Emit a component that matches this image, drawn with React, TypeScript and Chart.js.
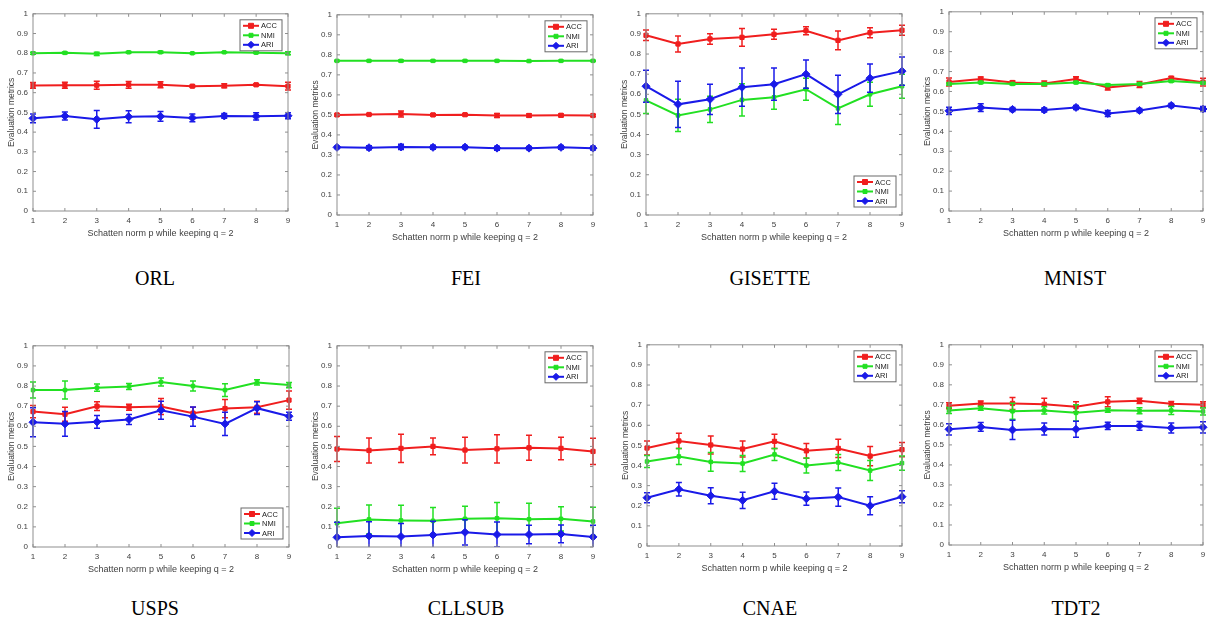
import React, { useEffect, useRef } from 'react';
import { Chart, registerables } from 'chart.js';

Chart.register(...registerables);

// ---------- shared axis data ----------
const P_VALUES = [1, 2, 3, 4, 5, 6, 7, 8, 9];
const Y_TICKS = [0, 0.1, 0.2, 0.3, 0.4, 0.5, 0.6, 0.7, 0.8, 0.9, 1];
const Y_TICK_LABELS = ['0', '0.1', '0.2', '0.3', '0.4', '0.5', '0.6', '0.7', '0.8', '0.9', '1'];
const SERIES_NAMES = ['ACC', 'NMI', 'ARI'];
const X_TITLE = 'Schatten norm p while keeping q = 2';
const Y_TITLE = 'Evaluation metrics';

// ---------- ORL ----------
const ORL_ACC = [0.637, 0.638, 0.638, 0.640, 0.640, 0.633, 0.635, 0.640, 0.633];
const ORL_ACC_ERR = [0.015, 0.015, 0.02, 0.017, 0.015, 0.005, 0.01, 0.005, 0.02];
const ORL_NMI = [0.800, 0.802, 0.797, 0.805, 0.805, 0.800, 0.805, 0.803, 0.800];
const ORL_NMI_ERR = [0.005, 0.004, 0.008, 0.004, 0.005, 0.003, 0.003, 0.004, 0.008];
const ORL_ARI = [0.470, 0.482, 0.465, 0.478, 0.480, 0.472, 0.482, 0.480, 0.483];
const ORL_ARI_ERR = [0.022, 0.02, 0.045, 0.03, 0.025, 0.02, 0.012, 0.018, 0.015];

// ---------- FEI ----------
const FEI_ACC = [0.500, 0.502, 0.505, 0.500, 0.501, 0.497, 0.497, 0.498, 0.497];
const FEI_ACC_ERR = [0.005, 0.004, 0.015, 0.006, 0.005, 0.01, 0.008, 0.007, 0.005];
const FEI_NMI = [0.770, 0.770, 0.770, 0.770, 0.770, 0.770, 0.769, 0.770, 0.770];
const FEI_NMI_ERR = [0.003, 0.003, 0.004, 0.003, 0.003, 0.003, 0.003, 0.003, 0.003];
const FEI_ARI = [0.338, 0.336, 0.340, 0.338, 0.339, 0.334, 0.334, 0.338, 0.334];
const FEI_ARI_ERR = [0.006, 0.01, 0.013, 0.01, 0.008, 0.01, 0.008, 0.009, 0.009];

// ---------- GISETTE ----------
const GIS_ACC = [0.893, 0.850, 0.875, 0.883, 0.898, 0.916, 0.868, 0.906, 0.918];
const GIS_ACC_ERR = [0.026, 0.04, 0.026, 0.044, 0.025, 0.02, 0.047, 0.025, 0.025];
const GIS_NMI = [0.570, 0.495, 0.525, 0.572, 0.585, 0.625, 0.530, 0.600, 0.640];
const GIS_NMI_ERR = [0.065, 0.08, 0.065, 0.08, 0.06, 0.055, 0.08, 0.06, 0.06];
const GIS_ARI = [0.640, 0.550, 0.575, 0.635, 0.650, 0.700, 0.600, 0.680, 0.715];
const GIS_ARI_ERR = [0.08, 0.115, 0.075, 0.095, 0.08, 0.07, 0.095, 0.07, 0.07];

// ---------- MNIST ----------
const MNI_ACC = [0.648, 0.663, 0.645, 0.640, 0.662, 0.620, 0.635, 0.667, 0.647];
const MNI_ACC_ERR = [0.02, 0.01, 0.008, 0.012, 0.012, 0.012, 0.015, 0.008, 0.02];
const MNI_NMI = [0.638, 0.645, 0.638, 0.637, 0.645, 0.632, 0.638, 0.652, 0.643];
const MNI_NMI_ERR = [0.005, 0.005, 0.005, 0.005, 0.005, 0.005, 0.005, 0.005, 0.005];
const MNI_ARI = [0.503, 0.519, 0.510, 0.507, 0.520, 0.490, 0.505, 0.530, 0.512];
const MNI_ARI_ERR = [0.018, 0.02, 0.01, 0.01, 0.01, 0.015, 0.01, 0.01, 0.012];

// ---------- USPS ----------
const USP_ACC = [0.673, 0.660, 0.700, 0.695, 0.698, 0.665, 0.688, 0.695, 0.730];
const USP_ACC_ERR = [0.03, 0.035, 0.022, 0.015, 0.04, 0.03, 0.045, 0.03, 0.045];
const USP_NMI = [0.780, 0.780, 0.792, 0.798, 0.820, 0.800, 0.780, 0.818, 0.805];
const USP_NMI_ERR = [0.04, 0.045, 0.018, 0.015, 0.02, 0.025, 0.032, 0.013, 0.013];
const USP_ARI = [0.620, 0.612, 0.622, 0.634, 0.680, 0.648, 0.612, 0.690, 0.650];
const USP_ARI_ERR = [0.072, 0.062, 0.032, 0.025, 0.045, 0.048, 0.058, 0.032, 0.02];

// ---------- CLLSUB ----------
const CLL_ACC = [0.487, 0.480, 0.490, 0.500, 0.482, 0.488, 0.493, 0.490, 0.475];
const CLL_ACC_ERR = [0.062, 0.062, 0.07, 0.042, 0.064, 0.07, 0.062, 0.056, 0.065];
const CLL_NMI = [0.118, 0.137, 0.132, 0.130, 0.140, 0.143, 0.138, 0.140, 0.127];
const CLL_NMI_ERR = [0.075, 0.072, 0.076, 0.066, 0.062, 0.078, 0.08, 0.06, 0.07];
const CLL_ARI = [0.048, 0.055, 0.052, 0.060, 0.073, 0.062, 0.062, 0.065, 0.050];
const CLL_ARI_ERR = [0.075, 0.07, 0.065, 0.068, 0.063, 0.062, 0.046, 0.044, 0.058];

// ---------- CNAE ----------
const CNA_ACC = [0.487, 0.522, 0.502, 0.482, 0.520, 0.473, 0.485, 0.447, 0.479];
const CNA_ACC_ERR = [0.035, 0.038, 0.045, 0.04, 0.035, 0.037, 0.045, 0.048, 0.035];
const CNA_NMI = [0.420, 0.445, 0.418, 0.410, 0.455, 0.400, 0.415, 0.375, 0.412];
const CNA_NMI_ERR = [0.03, 0.04, 0.047, 0.04, 0.03, 0.037, 0.04, 0.05, 0.035];
const CNA_ARI = [0.240, 0.282, 0.250, 0.227, 0.272, 0.235, 0.243, 0.200, 0.245];
const CNA_ARI_ERR = [0.025, 0.033, 0.04, 0.04, 0.04, 0.033, 0.045, 0.045, 0.03];

// ---------- TDT2 ----------
const TDT_ACC = [0.695, 0.707, 0.707, 0.703, 0.690, 0.715, 0.720, 0.705, 0.700];
const TDT_ACC_ERR = [0.015, 0.012, 0.03, 0.03, 0.025, 0.025, 0.013, 0.012, 0.015];
const TDT_NMI = [0.672, 0.683, 0.668, 0.672, 0.660, 0.673, 0.670, 0.672, 0.667];
const TDT_NMI_ERR = [0.015, 0.01, 0.04, 0.018, 0.04, 0.01, 0.015, 0.02, 0.018];
const TDT_ARI = [0.578, 0.590, 0.575, 0.580, 0.578, 0.595, 0.595, 0.585, 0.588];
const TDT_ARI_ERR = [0.028, 0.022, 0.048, 0.03, 0.04, 0.018, 0.022, 0.025, 0.028];

// ---------- styles ----------
const COLORS = ['#f01e1e', '#22e022', '#1a1ae8'];
const MARKERS = ['rect', 'rect', 'rectRot'];
const MARKER_R = [3, 2.5, 4];
const TEXT_COLOR = '#404040';
const FRAME_COLOR = '#8f8f8f';
const SANS = '"Liberation Sans", Arial, sans-serif';
const SERIF = '"Liberation Serif", "Times New Roman", serif';

type Panel = {
  name: string;
  series: number[][];
  errors: number[][];
  plot: { l: number; t: number; r: number; b: number };
  caption: { x: number; y: number };
  legendPos: 'ne' | 'se';
};

const PANELS: Panel[] = [
  { name: 'ORL', series: [ORL_ACC, ORL_NMI, ORL_ARI], errors: [ORL_ACC_ERR, ORL_NMI_ERR, ORL_ARI_ERR],
    plot: { l: 33, t: 12, r: 288, b: 211 }, caption: { x: 155, y: 278 }, legendPos: 'ne' },
  { name: 'FEI', series: [FEI_ACC, FEI_NMI, FEI_ARI], errors: [FEI_ACC_ERR, FEI_NMI_ERR, FEI_ARI_ERR],
    plot: { l: 337, t: 13, r: 593, b: 215 }, caption: { x: 466, y: 278 }, legendPos: 'ne' },
  { name: 'GISETTE', series: [GIS_ACC, GIS_NMI, GIS_ARI], errors: [GIS_ACC_ERR, GIS_NMI_ERR, GIS_ARI_ERR],
    plot: { l: 646, t: 12, r: 902, b: 215 }, caption: { x: 770, y: 278 }, legendPos: 'se' },
  { name: 'MNIST', series: [MNI_ACC, MNI_NMI, MNI_ARI], errors: [MNI_ACC_ERR, MNI_NMI_ERR, MNI_ARI_ERR],
    plot: { l: 949, t: 10, r: 1203, b: 211 }, caption: { x: 1075, y: 278 }, legendPos: 'ne' },
  { name: 'USPS', series: [USP_ACC, USP_NMI, USP_ARI], errors: [USP_ACC_ERR, USP_NMI_ERR, USP_ARI_ERR],
    plot: { l: 33, t: 344, r: 289, b: 547 }, caption: { x: 155, y: 608 }, legendPos: 'se' },
  { name: 'CLLSUB', series: [CLL_ACC, CLL_NMI, CLL_ARI], errors: [CLL_ACC_ERR, CLL_NMI_ERR, CLL_ARI_ERR],
    plot: { l: 337, t: 344, r: 593, b: 547 }, caption: { x: 466, y: 608 }, legendPos: 'ne' },
  { name: 'CNAE', series: [CNA_ACC, CNA_NMI, CNA_ARI], errors: [CNA_ACC_ERR, CNA_NMI_ERR, CNA_ARI_ERR],
    plot: { l: 647, t: 343, r: 902, b: 546 }, caption: { x: 770, y: 608 }, legendPos: 'ne' },
  { name: 'TDT2', series: [TDT_ACC, TDT_NMI, TDT_ARI], errors: [TDT_ACC_ERR, TDT_NMI_ERR, TDT_ARI_ERR],
    plot: { l: 949, t: 343, r: 1203, b: 545 }, caption: { x: 1076, y: 608 }, legendPos: 'ne' },
];

const Y_AXIS_W = 33;
const X_AXIS_H = 32;
const PAD_TOP = 8;
const PAD_RIGHT = 12;

function drawMarker(ctx: CanvasRenderingContext2D, style: string, x: number, y: number, r: number, color: string) {
  ctx.save();
  ctx.fillStyle = color;
  ctx.strokeStyle = color;
  ctx.lineWidth = 1;
  ctx.beginPath();
  if (style === 'rectRot') {
    ctx.moveTo(x, y - r);
    ctx.lineTo(x + r, y);
    ctx.lineTo(x, y + r);
    ctx.lineTo(x - r, y);
    ctx.closePath();
  } else {
    ctx.rect(x - r, y - r, 2 * r, 2 * r);
  }
  ctx.fill();
  ctx.stroke();
  ctx.restore();
}

const framePlugin = {
  id: 'frame',
  afterDatasetDraw(chart: any, args: any) {
    const ds = chart.data.datasets[args.index];
    const errs: number[] = ds.errs;
    if (!errs) return;
    const ctx: CanvasRenderingContext2D = chart.ctx;
    const ca = chart.chartArea;
    const ys = chart.scales.y;
    ctx.save();
    ctx.beginPath();
    ctx.rect(ca.left - 10, ca.top, ca.right - ca.left + 20, ca.bottom - ca.top);
    ctx.clip();
    ctx.strokeStyle = ds.borderColor;
    ctx.lineWidth = 1.5;
    args.meta.data.forEach((pt: any, i: number) => {
      const v = ds.data[i].y;
      const e = errs[i];
      const x = pt.x;
      const y1 = ys.getPixelForValue(v + e);
      const y2 = ys.getPixelForValue(v - e);
      ctx.beginPath();
      ctx.moveTo(x, y1);
      ctx.lineTo(x, y2);
      ctx.moveTo(x - 3, y1);
      ctx.lineTo(x + 3, y1);
      ctx.moveTo(x - 3, y2);
      ctx.lineTo(x + 3, y2);
      ctx.stroke();
    });
    ctx.restore();
  },
  afterDraw(chart: any) {
    const ctx: CanvasRenderingContext2D = chart.ctx;
    const ca = chart.chartArea;
    const xs = chart.scales.x;
    const ys = chart.scales.y;
    ctx.save();
    ctx.strokeStyle = FRAME_COLOR;
    ctx.lineWidth = 1;
    ctx.strokeRect(ca.left, ca.top, ca.right - ca.left, ca.bottom - ca.top);
    ctx.beginPath();
    Y_TICKS.forEach((v) => {
      const py = ys.getPixelForValue(v);
      ctx.moveTo(ca.left, py);
      ctx.lineTo(ca.left + 3, py);
      ctx.moveTo(ca.right, py);
      ctx.lineTo(ca.right - 3, py);
    });
    P_VALUES.forEach((v) => {
      const px = xs.getPixelForValue(v);
      ctx.moveTo(px, ca.bottom);
      ctx.lineTo(px, ca.bottom - 3);
      ctx.moveTo(px, ca.top);
      ctx.lineTo(px, ca.top + 3);
    });
    ctx.stroke();

    // legend
    const pos = chart.options.plugins.frame.legendPos;
    const w = 42;
    const h = 31;
    const bx = ca.right - 6 - w;
    const by = pos === 'ne' ? ca.top + 6 : ca.bottom - 8 - h;
    ctx.fillStyle = '#ffffff';
    ctx.fillRect(bx, by, w, h);
    ctx.strokeStyle = '#6a6a6a';
    ctx.lineWidth = 1;
    ctx.strokeRect(bx, by, w, h);
    chart.data.datasets.forEach((ds: any, i: number) => {
      const ly = by + 6 + i * 9.5;
      ctx.strokeStyle = ds.borderColor;
      ctx.lineWidth = 2;
      ctx.beginPath();
      ctx.moveTo(bx + 3, ly);
      ctx.lineTo(bx + 19, ly);
      ctx.stroke();
      drawMarker(ctx, MARKERS[i], bx + 11, ly, MARKER_R[i] - 0.5, ds.borderColor);
      ctx.fillStyle = '#222222';
      ctx.font = '7.5px ' + SANS;
      ctx.textBaseline = 'middle';
      ctx.textAlign = 'left';
      ctx.fillText(ds.label, bx + 21, ly + 0.5);
    });
    ctx.restore();
  },
};

function PanelChart({ panel }: { panel: Panel }) {
  const ref = useRef<HTMLCanvasElement | null>(null);
  const width = panel.plot.r - panel.plot.l + Y_AXIS_W + PAD_RIGHT;
  const height = panel.plot.b - panel.plot.t + PAD_TOP + X_AXIS_H;

  useEffect(() => {
    if (!ref.current) return;
    const datasets = SERIES_NAMES.map((nm, i) => ({
      label: nm,
      data: P_VALUES.map((p, k) => ({ x: p, y: panel.series[i][k] })),
      errs: panel.errors[i],
      borderColor: COLORS[i],
      backgroundColor: COLORS[i],
      pointBackgroundColor: COLORS[i],
      pointBorderColor: COLORS[i],
      pointStyle: MARKERS[i],
      pointRadius: MARKER_R[i],
      pointBorderWidth: 1,
      borderWidth: 2,
      tension: 0,
      clip: false,
      order: 2 - i,
    }));
    const chart = new Chart(ref.current, {
      type: 'line',
      data: { datasets: datasets as any },
      plugins: [framePlugin as any],
      options: {
        animation: false,
        responsive: false,
        devicePixelRatio: 1,
        layout: { padding: { top: PAD_TOP, right: PAD_RIGHT, left: 0, bottom: 0 } },
        plugins: {
          legend: { display: false },
          tooltip: { enabled: false },
          frame: { legendPos: panel.legendPos },
        } as any,
        scales: {
          x: {
            type: 'linear',
            min: 1,
            max: 9,
            grid: { display: false, drawTicks: false },
            border: { display: false },
            afterBuildTicks: (s: any) => {
              s.ticks = P_VALUES.map((v) => ({ value: v }));
            },
            ticks: {
              color: TEXT_COLOR,
              font: { size: 8, family: SANS },
              padding: 5,
              maxRotation: 0,
              autoSkip: false,
              callback: (v: any) => String(v),
            },
            title: {
              display: true,
              text: X_TITLE,
              color: TEXT_COLOR,
              font: { size: 9, family: SANS },
              padding: { top: 2, bottom: 4 },
            },
            afterFit: (s: any) => {
              s.height = X_AXIS_H;
            },
          },
          y: {
            type: 'linear',
            min: 0,
            max: 1,
            grid: { display: false, drawTicks: false },
            border: { display: false },
            afterBuildTicks: (s: any) => {
              s.ticks = Y_TICKS.map((v) => ({ value: v }));
            },
            ticks: {
              color: TEXT_COLOR,
              font: { size: 8, family: SANS },
              padding: 5,
              autoSkip: false,
              callback: (v: any) => {
                const idx = Y_TICKS.findIndex((t) => Math.abs(t - v) < 1e-9);
                return idx >= 0 ? Y_TICK_LABELS[idx] : '';
              },
            },
            title: {
              display: true,
              text: Y_TITLE,
              color: TEXT_COLOR,
              font: { size: 8.5, family: SANS },
              padding: { top: 7, bottom: 2 },
            },
            afterFit: (s: any) => {
              s.width = Y_AXIS_W;
            },
          },
        },
      } as any,
    });
    return () => chart.destroy();
  }, [panel]);

  return (
    <>
      <canvas
        ref={ref}
        width={width}
        height={height}
        style={{
          position: 'absolute',
          left: panel.plot.l - Y_AXIS_W,
          top: panel.plot.t - PAD_TOP,
          width,
          height,
        }}
      />
      <div
        style={{
          position: 'absolute',
          left: panel.caption.x,
          top: panel.caption.y,
          transform: 'translate(-50%, -50%)',
          fontFamily: SERIF,
          fontSize: 20,
          color: '#000',
          whiteSpace: 'nowrap',
        }}
      >
        {panel.name}
      </div>
    </>
  );
}

export default function App() {
  return (
    <div
      style={{
        position: 'absolute',
        left: 0,
        top: 0,
        width: 1217,
        height: 623,
        background: '#ffffff',
        overflow: 'hidden',
      }}
    >
      {PANELS.map((p) => (
        <PanelChart key={p.name} panel={p} />
      ))}
    </div>
  );
}
